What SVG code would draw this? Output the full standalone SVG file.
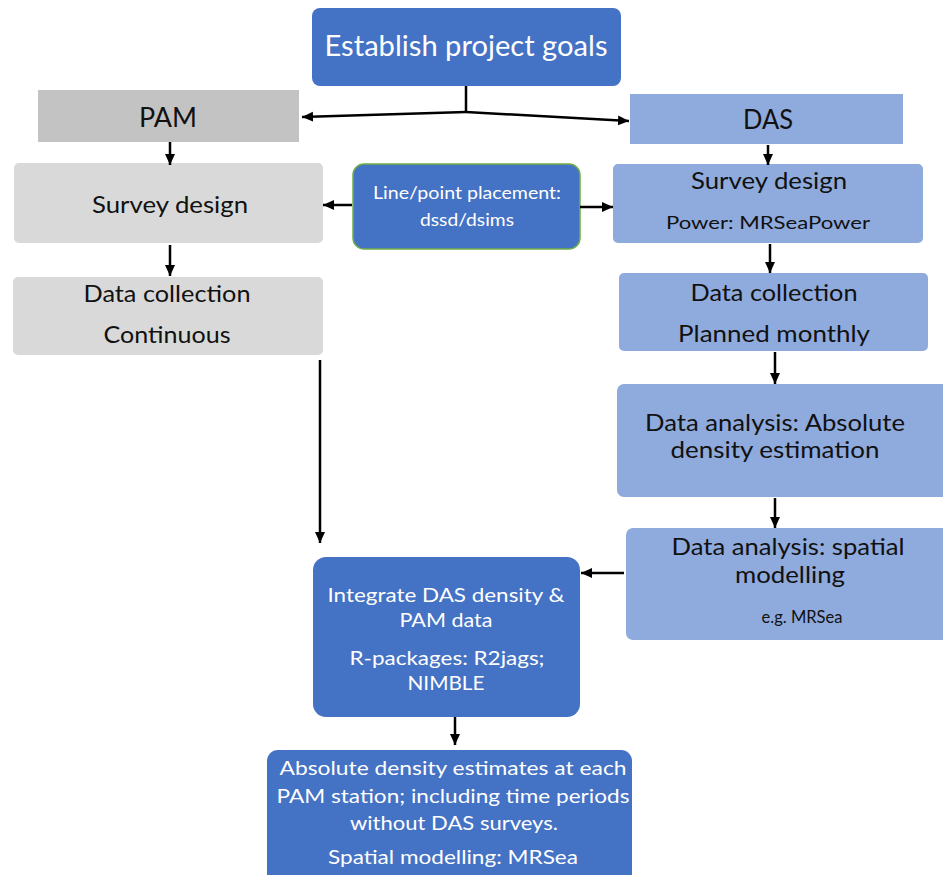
<svg xmlns="http://www.w3.org/2000/svg" width="943" height="875" viewBox="0 0 943 875">
<defs>
<style>
.t{font-family:Lato,"Liberation Sans",sans-serif;text-anchor:middle}
.w{fill:#ffffff}
.k{fill:#111111}
.dark{fill:#4472C4}
.lb{fill:#8FAADC}
.c{stroke:#000;stroke-width:2.5;fill:none;marker-end:url(#ah)}
</style>
<marker id="ah" markerUnits="userSpaceOnUse" markerWidth="12" markerHeight="12" viewBox="0 0 12 12" refX="11" refY="6" orient="auto">
<path d="M0,1 L11,6 L0,11 z" fill="#000"/>
</marker>
</defs>
<rect width="943" height="875" fill="#ffffff"/>
<g id="goals">
<rect class="dark" x="312" y="8" width="309" height="78" rx="8"/>
<text class="t w" x="466" y="56" font-size="28" textLength="283" lengthAdjust="spacingAndGlyphs">Establish project goals</text>
</g>
<g id="pam">
<rect x="38" y="90" width="261" height="52" fill="#C3C3C3"/>
<text class="t k" x="168" y="127" font-size="27" textLength="58" lengthAdjust="spacingAndGlyphs">PAM</text>
</g>
<g id="pam-survey">
<rect x="14" y="163" width="309" height="80" rx="5" fill="#D9D9D9"/>
<text class="t k" x="170" y="213" font-size="23" textLength="156" lengthAdjust="spacingAndGlyphs">Survey design</text>
</g>
<g id="pam-data">
<rect x="13" y="277" width="310" height="78" rx="5" fill="#D9D9D9"/>
<text class="t k" x="167" y="302" font-size="23" textLength="167" lengthAdjust="spacingAndGlyphs">Data collection</text>
<text class="t k" x="167" y="343" font-size="23" textLength="127" lengthAdjust="spacingAndGlyphs">Continuous</text>
</g>
<g id="placement">
<rect class="dark" x="353" y="164" width="227" height="85" rx="11" stroke="#70AD47" stroke-width="1.5"/>
<text class="t w" x="467" y="199" font-size="17" textLength="188" lengthAdjust="spacingAndGlyphs">Line/point placement:</text>
<text class="t w" x="467" y="226" font-size="17" textLength="94" lengthAdjust="spacingAndGlyphs">dssd/dsims</text>
</g>
<g id="das">
<rect class="lb" x="630" y="94" width="273" height="50"/>
<text class="t k" x="768" y="129" font-size="26" textLength="50" lengthAdjust="spacingAndGlyphs">DAS</text>
</g>
<g id="das-survey">
<rect class="lb" x="613" y="164" width="310" height="79" rx="5"/>
<text class="t k" x="769" y="189" font-size="23" textLength="156" lengthAdjust="spacingAndGlyphs">Survey design</text>
<text class="t k" x="768" y="229" font-size="18" textLength="204" lengthAdjust="spacingAndGlyphs">Power: MRSeaPower</text>
</g>
<g id="das-data">
<rect class="lb" x="619" y="273" width="309" height="78" rx="5"/>
<text class="t k" x="774" y="301" font-size="23" textLength="167" lengthAdjust="spacingAndGlyphs">Data collection</text>
<text class="t k" x="774" y="342" font-size="23" textLength="192" lengthAdjust="spacingAndGlyphs">Planned monthly</text>
</g>
<g id="das-density">
<rect class="lb" x="617" y="384" width="340" height="113" rx="7"/>
<text class="t k" x="775" y="431" font-size="23" textLength="260" lengthAdjust="spacingAndGlyphs">Data analysis: Absolute</text>
<text class="t k" x="775" y="458" font-size="23" textLength="209" lengthAdjust="spacingAndGlyphs">density estimation</text>
</g>
<g id="das-spatial">
<rect class="lb" x="626" y="528" width="330" height="112" rx="7"/>
<text class="t k" x="788" y="555" font-size="23" textLength="233" lengthAdjust="spacingAndGlyphs">Data analysis: spatial</text>
<text class="t k" x="790" y="583" font-size="23" textLength="110" lengthAdjust="spacingAndGlyphs">modelling</text>
<text class="t k" x="802" y="623" font-size="18" textLength="81" lengthAdjust="spacingAndGlyphs">e.g. MRSea</text>
</g>
<g id="integrate">
<rect class="dark" x="313" y="557" width="267" height="160" rx="13"/>
<text class="t w" x="446" y="602" font-size="20" textLength="237" lengthAdjust="spacingAndGlyphs">Integrate DAS density &amp;</text>
<text class="t w" x="446" y="627" font-size="20" textLength="93" lengthAdjust="spacingAndGlyphs">PAM data</text>
<text class="t w" x="447" y="665" font-size="19" textLength="195" lengthAdjust="spacingAndGlyphs">R-packages: R2jags;</text>
<text class="t w" x="446" y="690" font-size="19" textLength="77" lengthAdjust="spacingAndGlyphs">NIMBLE</text>
</g>
<g id="final">
<rect class="dark" x="267" y="750" width="365" height="140" rx="11"/>
<text class="t w" x="453" y="775" font-size="20" textLength="347" lengthAdjust="spacingAndGlyphs">Absolute density estimates at each</text>
<text class="t w" x="453" y="803" font-size="20" textLength="353" lengthAdjust="spacingAndGlyphs">PAM station; including time periods</text>
<text class="t w" x="454" y="830" font-size="20" textLength="208" lengthAdjust="spacingAndGlyphs">without DAS surveys.</text>
<text class="t w" x="453" y="864" font-size="20" textLength="250" lengthAdjust="spacingAndGlyphs">Spatial modelling: MRSea</text>
</g>
<g id="connectors">
<path d="M466,86 V112" stroke="#000" stroke-width="2.5" fill="none"/>
<path class="c" d="M466,112 L302,117"/>
<path class="c" d="M466,112 L629,121"/>
<path class="c" d="M170,142 V165"/>
<path class="c" d="M170,245 V276"/>
<path class="c" d="M352,205 H323"/>
<path class="c" d="M580,207 H613"/>
<path class="c" d="M768,145 V165"/>
<path class="c" d="M770,244 V273"/>
<path class="c" d="M775,352 V384"/>
<path class="c" d="M775,498 V528"/>
<path class="c" d="M320,360 V543"/>
<path class="c" d="M624,573 H581"/>
<path class="c" d="M455,717 V745"/>
</g>
</svg>
